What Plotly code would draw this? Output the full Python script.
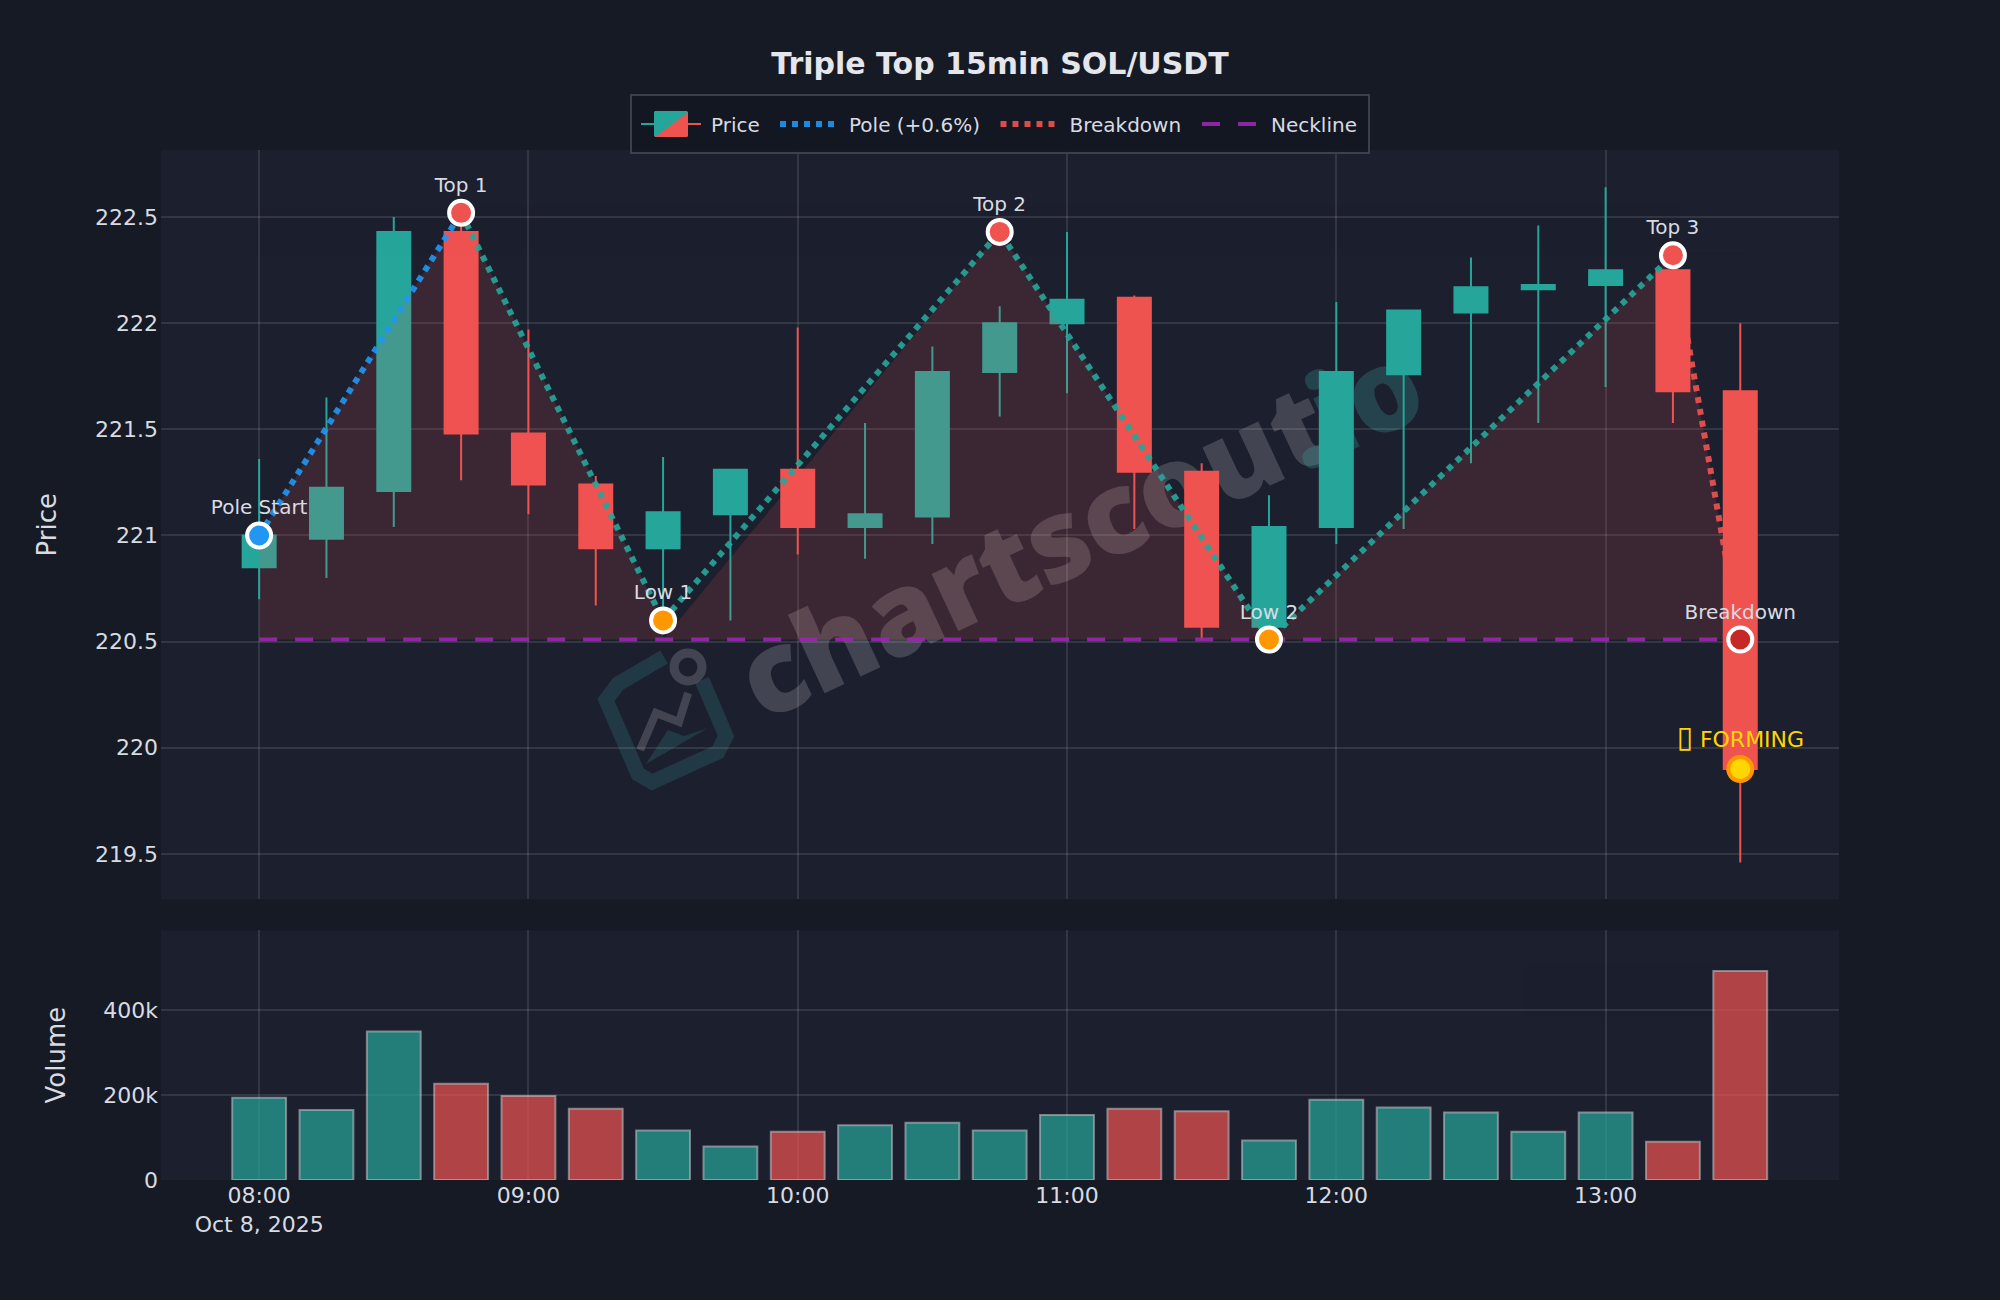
import plotly.graph_objects as go
from plotly.subplots import make_subplots

# candles
times = [
    "2025-10-08 08:00", "2025-10-08 08:15", "2025-10-08 08:30", "2025-10-08 08:45",
    "2025-10-08 09:00", "2025-10-08 09:15", "2025-10-08 09:30", "2025-10-08 09:45",
    "2025-10-08 10:00", "2025-10-08 10:15", "2025-10-08 10:30", "2025-10-08 10:45",
    "2025-10-08 11:00", "2025-10-08 11:15", "2025-10-08 11:30", "2025-10-08 11:45",
    "2025-10-08 12:00", "2025-10-08 12:15", "2025-10-08 12:30", "2025-10-08 12:45",
    "2025-10-08 13:00", "2025-10-08 13:15", "2025-10-08 13:30",
]
opens = [220.85, 220.985, 221.21, 222.43, 221.48, 221.24, 220.94, 221.10, 221.31, 221.04, 221.09, 221.77,
         222.00, 222.12, 221.30, 220.57, 221.04, 221.76, 222.05, 222.16, 222.18, 222.25, 221.68]
highs = [221.36, 221.65, 222.50, 222.50, 221.97, 221.28, 221.37, 221.31, 221.98, 221.53, 221.89, 222.08,
         222.43, 222.13, 221.34, 221.19, 222.10, 222.06, 222.31, 222.46, 222.64, 222.25, 222.00]
lows = [220.70, 220.80, 221.04, 221.26, 221.10, 220.67, 220.60, 220.60, 220.91, 220.89, 220.96, 221.56,
        221.67, 221.03, 220.51, 220.50, 220.96, 221.03, 221.34, 221.53, 221.70, 221.53, 219.46]
closes = [221.00, 221.225, 222.43, 221.48, 221.24, 220.94, 221.11, 221.31, 221.04, 221.10, 221.77, 222.00,
          222.11, 221.30, 220.57, 221.04, 221.77, 222.06, 222.17, 222.18, 222.25, 221.68, 219.90]
volumes = [194000, 165000, 350000, 227000, 198000, 168000, 117000, 79000, 114000, 129000, 135000, 117000,
           153000, 168000, 162000, 93000, 189000, 171000, 159000, 114000, 159000, 90000, 493000]

# pattern points
point_names = ["Pole Start", "Top 1", "Low 1", "Top 2", "Low 2", "Top 3", "Breakdown"]
point_times = ["2025-10-08 08:00", "2025-10-08 08:45", "2025-10-08 09:30", "2025-10-08 10:45",
               "2025-10-08 11:45", "2025-10-08 13:15", "2025-10-08 13:30"]
point_prices = [221.00, 222.52, 220.60, 222.43, 220.51, 222.32, 220.51]
point_colors = ["#2196f3", "#ef5350", "#ff9800", "#ef5350", "#ff9800", "#ef5350", "#c62828"]
neckline = 220.51
forming_time = "2025-10-08 13:30"
forming_price = 219.90

# filled area, it drops to the neckline under each low
area_times = ["2025-10-08 08:00", "2025-10-08 08:45", "2025-10-08 09:30", "2025-10-08 09:30",
              "2025-10-08 10:45", "2025-10-08 11:45", "2025-10-08 11:45", "2025-10-08 13:15",
              "2025-10-08 13:30", "2025-10-08 08:00"]
area_prices = [221.00, 222.52, 220.60, 220.51, 222.43, 220.51, 220.51, 222.32, 220.51, 220.51]

UP = "#26a69a"
DOWN = "#ef5350"
TEXT = "#d8dbe2"
GRID = "rgba(255,255,255,0.1)"
PAPER = "#161a25"
PLOT = "#1c202e"
FONT = "DejaVu Sans"

fig = make_subplots(rows=2, cols=1, shared_xaxes=True, vertical_spacing=0.03, row_heights=[0.75, 0.25])

fig.add_trace(go.Candlestick(
    x=times, open=opens, high=highs, low=lows, close=closes, name="Price",
    increasing=dict(line=dict(color=UP, width=2), fillcolor=UP),
    decreasing=dict(line=dict(color=DOWN, width=2), fillcolor=DOWN),
), row=1, col=1)

fig.add_trace(go.Scatter(
    x=area_times, y=area_prices, mode="lines", fill="toself", fillcolor="rgba(239,83,80,0.15)",
    line=dict(width=0), showlegend=False, hoverinfo="skip",
), row=1, col=1)

fig.add_trace(go.Scatter(
    x=point_times[:2], y=point_prices[:2], mode="lines", name="Pole (+0.6%)", opacity=0.9,
    line=dict(color="#2196f3", width=6, dash="dot"),
), row=1, col=1)
fig.add_trace(go.Scatter(
    x=point_times[1:6], y=point_prices[1:6], mode="lines", showlegend=False, opacity=0.9,
    line=dict(color=UP, width=6, dash="dot"),
), row=1, col=1)
fig.add_trace(go.Scatter(
    x=point_times[5:], y=point_prices[5:], mode="lines", name="Breakdown", opacity=0.9,
    line=dict(color=DOWN, width=6, dash="dot"),
), row=1, col=1)
fig.add_trace(go.Scatter(
    x=[times[0], times[-1]], y=[neckline, neckline], mode="lines", name="Neckline", opacity=0.9,
    line=dict(color="#9c27b0", width=4, dash="18px,18px"),
), row=1, col=1)

fig.add_trace(go.Scatter(
    x=point_times, y=point_prices, mode="markers+text", text=point_names, textposition="top center",
    textfont=dict(size=20, color=TEXT),
    marker=dict(size=24, color=point_colors, line=dict(color="white", width=4)),
    showlegend=False,
), row=1, col=1)
fig.add_trace(go.Scatter(
    x=[forming_time], y=[forming_price], mode="markers+text",
    text=['<span style="font-size:30px">▯</span> FORMING'], textposition="top center",
    textfont=dict(size=22, color="#ffd600"),
    marker=dict(size=24, color="#ffd600", line=dict(color="#ff9800", width=4)),
    showlegend=False,
), row=1, col=1)

bar_colors = [UP if c >= o else DOWN for o, c in zip(opens, closes)]
fig.add_trace(go.Bar(
    x=times, y=volumes, name="Volume", showlegend=False, opacity=0.7,
    marker=dict(color=bar_colors, line=dict(color="rgba(255,255,255,0.6)", width=2)),
), row=2, col=1)


# watermark lives under the traces, positions are in page pixels
def paper_path(points, close=False):
    coords = [f"{(x - 161) / 1678:.4f},{(1180 - y) / 1030:.4f}" for x, y in points]
    return "M" + " L".join(coords) + (" Z" if close else "")


logo_dark = "rgba(60,170,170,0.18)"
logo_grey = "rgba(255,255,255,0.17)"
fig.add_shape(
    type="rect", xref="paper", yref="paper", x0=0.421, x1=0.621, y0=0.547, y1=0.667, layer="below",
    line=dict(width=0),
    label=dict(text="chartscout", textangle=-25, textposition="middle center",
               font=dict(family="Open Sans", size=114, color=logo_grey, weight=800)),
)
fig.add_shape(
    type="rect", xref="paper", yref="paper", x0=0.660, x1=0.760, y0=0.698, y1=0.798, layer="below",
    line=dict(width=0),
    label=dict(text=".io", textangle=-25, textposition="middle center",
               font=dict(family="Open Sans", size=114, color="rgba(60,170,170,0.25)", weight=800)),
)
fig.add_shape(
    type="path", xref="paper", yref="paper", layer="below", line=dict(color=logo_dark, width=15),
    path=paper_path([(664, 657), (618, 684), (606, 700), (638, 774), (652, 782), (718, 752), (726, 736), (702, 680)]),
)
fig.add_shape(
    type="path", xref="paper", yref="paper", layer="below", line=dict(width=0), fillcolor=logo_dark,
    path=paper_path([(646, 764), (668, 730), (684, 736), (708, 728)], close=True),
)
fig.add_shape(
    type="path", xref="paper", yref="paper", layer="below", line=dict(color=logo_grey, width=8),
    path=paper_path([(640, 750), (656, 713), (679, 722), (688, 693)]),
)
fig.add_shape(
    type="circle", xref="paper", yref="paper", layer="below", line=dict(color=logo_grey, width=9),
    x0=(674 - 161) / 1678, x1=(702 - 161) / 1678, y0=(1180 - 681) / 1030, y1=(1180 - 653) / 1030,
)

fig.update_layout(
    width=2000,
    height=1300,
    margin=dict(l=161, r=161, t=150, b=120),
    paper_bgcolor=PAPER,
    plot_bgcolor=PLOT,
    font=dict(family=FONT, size=22, color=TEXT),
    title=dict(text="Triple Top 15min SOL/USDT", x=0.5, xanchor="center", y=0.951, yanchor="middle",
               font=dict(size=30, weight="bold", color="#e4e6eb")),
    legend=dict(orientation="h", x=0.5, xanchor="center", y=0.996, yanchor="bottom", itemwidth=60,
                bgcolor="rgba(19,23,34,0.9)", bordercolor="#3c404e", borderwidth=2, font=dict(size=20)),
    hovermode="closest",
    xaxis_rangeslider_visible=False,
)
fig.update_xaxes(range=["2025-10-08 07:38:08", "2025-10-08 13:52:00"], dtick=3600000,
                 showgrid=True, gridcolor=GRID, gridwidth=2, zeroline=False)
fig.update_yaxes(showgrid=True, gridcolor=GRID, gridwidth=2, zeroline=False, ticklabelstandoff=2,
                 title_font_size=26, title_standoff=30)
fig.update_yaxes(title_text="Price", range=[219.286, 222.816], dtick=0.5, row=1, col=1)
fig.update_yaxes(title_text="Volume", range=[0, 589000], dtick=200000, row=2, col=1)

# plotly's legend padding is fixed in px, open it up to the reference box
legend_fix = """
document.body.style.margin = '0';
var lg = document.querySelector('.legend');
lg.setAttribute('transform', 'translate(630,93.5)');
var bg = lg.querySelector('rect.bg');
bg.setAttribute('width', 738);
bg.setAttribute('height', 58.5);
lg.querySelector('.scrollbox').removeAttribute('clip-path');
var itemX = [11, 145, 365.5, 567];
lg.querySelectorAll('.traces').forEach(function (t, i) {
    t.setAttribute('transform', 'translate(' + itemX[i] + ',30.5)');
    if (i > 0) {
        var label = t.querySelector('text.legendtext');
        label.setAttribute('x', parseFloat(label.getAttribute('x')) + 4);
    }
});
lg.querySelectorAll('path.legendcandle, .legendcandle path').forEach(function (p) {
    p.setAttribute('transform', 'translate(30,0) scale(2)');
    p.style.strokeWidth = '1px';
});
"""

fig.write_html("out.html", config=dict(displayModeBar=False), post_script=legend_fix)
